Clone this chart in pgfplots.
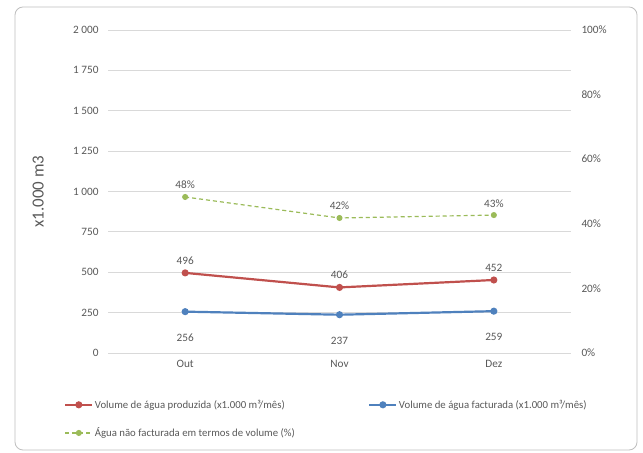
\documentclass[border=0pt]{standalone}
\usepackage{pgfplots}
\pgfplotsset{compat=1.18}
\usepackage{fontspec}
\setmainfont{Carlito}
\definecolor{txt}{HTML}{595959}
\definecolor{grd}{HTML}{D9D9D9}
\definecolor{frm}{HTML}{BFBFBF}
\definecolor{cred}{HTML}{C0504D}
\definecolor{cblue}{HTML}{4F81BD}
\definecolor{cgreen}{HTML}{9BBB59}
\pgfplotsset{
  mylegimg/.style={legend image code/.code={
    \draw[mark repeat=2,mark phase=2,##1] plot coordinates {(0bp,0bp) (13.5bp,0bp) (27bp,0bp)};}},
}
\begin{document}
\begin{tikzpicture}[x=1bp,y=1bp]
\path[use as bounding box] (0,0) rectangle (643,453);
\fill[white] (0,0) rectangle (643,453);
\draw[frm, line width=0.8bp, rounded corners=8bp] (15,3) rectangle (637,446);
\begin{axis}[
  at={(108bp,100bp)}, anchor=south west, scale only axis,
  width=463bp, height=323bp,
  xmin=-0.5, xmax=2.5, ymin=0, ymax=2000,
  xtick={0,1,2}, xticklabels={Out,Nov,Dez},
  ytick={0,250,...,2000},
  axis line style={draw=none},
  major tick length=0pt,
  ymajorgrids, grid style={grd, line width=0.8bp},
  tick label style={font=\fontsize{11.3}{13}\selectfont, text=txt},
  yticklabel style={xshift=-6bp},
  xticklabel style={yshift=-4bp},
  /pgf/number format/.cd, 1000 sep={\ }, assume math mode=true, /pgfplots/.cd,
  every axis y label/.style={at={(axis description cs:-0.151,0.5)}, rotate=90, anchor=center},
  ylabel={x1.000 m3},
  ylabel style={font=\fontsize{17}{19}\selectfont, text=txt},
  legend columns=2,
  legend cell align=left,
  legend style={at={(axis description cs:-0.095,-0.14)}, anchor=north west,
    draw=none, fill=none, font=\fontsize{10.8}{13}\selectfont, text=txt,
    row sep=15bp, inner sep=0pt,
    nodes={inner sep=1.5bp},
    /tikz/every even column/.append style={column sep=72bp}},
  mylegimg,
  nodes near coords,
  point meta=explicit symbolic,
  every node near coord/.append style={font=\fontsize{11.3}{13}\selectfont, text=txt},
]
\addplot[cred, line width=2.2bp, mark=*, mark size=2.4bp, mark options={solid},
  every node near coord/.append style={anchor=south, yshift=4bp}]
  coordinates {(0,496) [496] (1,406) [406] (2,452) [452]};
\addlegendentry{Volume de água produzida (x1.000 m³/mês)}
\addplot[cblue, line width=2.2bp, mark=*, mark size=2.4bp, mark options={solid},
  every node near coord/.append style={anchor=north, yshift=-18bp}]
  coordinates {(0,256) [256] (1,237) [237] (2,259) [259]};
\addlegendentry{Volume de água facturada (x1.000 m³/mês)}
\addlegendimage{cgreen, line width=1.2bp, dash pattern=on 4bp off 3bp, mark=*, mark size=2.4bp, mark options={solid}}
\addlegendentry{Água não facturada em termos de volume (\%)}
\end{axis}
\begin{axis}[
  at={(108bp,100bp)}, anchor=south west, scale only axis,
  width=463bp, height=323bp,
  xmin=-0.5, xmax=2.5, ymin=0, ymax=1,
  axis y line*=right, axis x line=none,
  axis line style={draw=none},
  major tick length=0pt,
  ytick={0,0.2,0.4,0.6,0.8,1},
  yticklabels={0\%,20\%,40\%,60\%,80\%,100\%},
  tick label style={font=\fontsize{11.3}{13}\selectfont, text=txt},
  yticklabel style={xshift=7bp},
  nodes near coords,
  point meta=explicit symbolic,
  every node near coord/.append style={font=\fontsize{11.3}{13}\selectfont, text=txt, anchor=south, yshift=4bp},
]
\addplot[cgreen, line width=1.2bp, dash pattern=on 4bp off 3bp, mark=*, mark size=2.4bp, mark options={solid}]
  coordinates {(0,0.483) [48\%] (1,0.418) [42\%] (2,0.427) [43\%]};
\end{axis}
\end{tikzpicture}
\end{document}
